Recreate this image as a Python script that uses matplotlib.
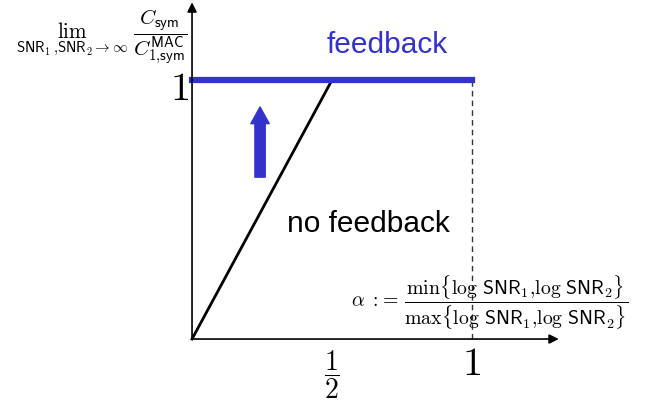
import matplotlib.pyplot as plt

plt.rcParams['mathtext.fontset'] = 'cm'
plt.rcParams['font.family'] = ['Liberation Sans', 'DejaVu Sans']

# data (alpha on x, normalised symmetric capacity on y)
fb_alpha = [0, 1]
fb_cap = [1, 1]
nofb_alpha = [0, 0.5]
nofb_cap = [0, 1]
dash_alpha = [1, 1]
dash_cap = [0, 1]
arrow_x = 0.243
arrow_y = [0.625, 0.896]

blue = '#3333cc'

fig = plt.figure(figsize=(6.5, 4.03), dpi=100)
ax = fig.add_axes([0, 0, 1, 1])
ax.set_xlim(-0.686, 1.636)
ax.set_ylim(-0.247, 1.309)
ax.axis('off')

# axes with arrowheads
ax.annotate('', xy=(1.31, 0), xytext=(0, 0),
            arrowprops=dict(arrowstyle='-|>', color='black', lw=1.2,
                            mutation_scale=14, shrinkA=0, shrinkB=0))
ax.annotate('', xy=(0, 1.3), xytext=(0, 0),
            arrowprops=dict(arrowstyle='-|>', color='black', lw=1.2,
                            mutation_scale=14, shrinkA=0, shrinkB=0))

ax.plot(dash_alpha, dash_cap, color='#333333', lw=1, ls=(0, (4, 3)))
ax.plot(nofb_alpha, nofb_cap, color='black', lw=2)
ax.plot(fb_alpha, fb_cap, color=blue, lw=4.5, solid_capstyle='projecting')

ax.annotate('', xy=(arrow_x, arrow_y[1]), xytext=(arrow_x, arrow_y[0]),
            arrowprops=dict(arrowstyle='simple,head_length=0.6,head_width=0.66,tail_width=0.37',
                            color=blue, shrinkA=0, shrinkB=0, mutation_scale=20))

ax.text(0.698, 1.135, 'feedback', color=blue, fontsize=21.5, ha='center', va='center')
ax.text(0.629, 0.444, 'no feedback', color='black', fontsize=21.5, ha='center', va='center')

# tick labels
ax.text(-0.01, 0.965, r'$1$', fontsize=29, ha='right', va='center')
ax.text(1.0, -0.097, r'$1$', fontsize=29, ha='center', va='center')
ax.text(0.5, -0.139, r'$\dfrac{1}{2}$', fontsize=20, ha='center', va='center')

# axis labels
ax.text(-0.325, 1.163,
        r'$\lim_{\mathsf{SNR}_1{,}\mathsf{SNR}_2\to\infty}\ \dfrac{C_{\mathsf{sym}}}{C^{\mathsf{MAC}}_{1{,}\mathsf{sym}}}$',
        fontsize=15.2, ha='center', va='center')
ax.text(1.557, 0.139,
        r'$\alpha\ {:}\!{=}\,\dfrac{\min\{\log\,\mathsf{SNR}_1{,}\log\,\mathsf{SNR}_2\}}{\max\{\log\,\mathsf{SNR}_1{,}\log\,\mathsf{SNR}_2\}}$',
        fontsize=14.3, ha='right', va='center')

fig.savefig('out.png', dpi=100)
